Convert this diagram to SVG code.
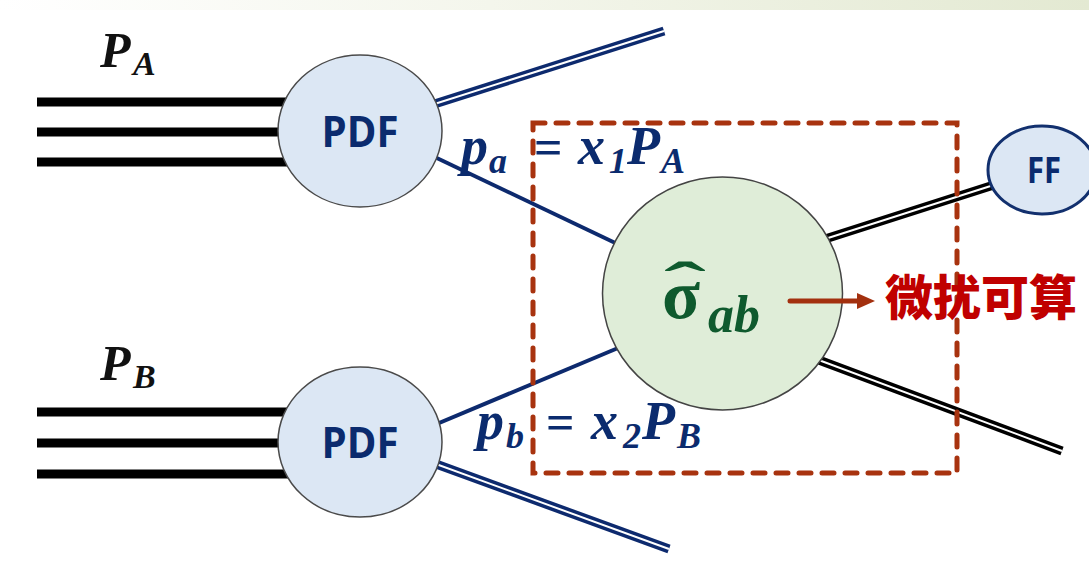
<svg xmlns="http://www.w3.org/2000/svg" width="1089" height="562" viewBox="0 0 1089 562">
<defs>
<linearGradient id="band" x1="0" x2="1" y1="0" y2="0">
<stop offset="0" stop-color="#ffffff"/>
<stop offset="0.45" stop-color="#f4f6ec"/>
<stop offset="1" stop-color="#e3e9d2"/>
</linearGradient>
<marker id="arr" markerUnits="userSpaceOnUse" viewBox="0 0 18 18" markerWidth="18" markerHeight="18" refX="5" refY="9" orient="auto">
<path d="M0,1 L18,9 L0,17 z" fill="#a3300f"/>
</marker>
</defs>
<style>
.beam{stroke:#000;stroke-width:9;fill:none}
.navy2{stroke:#0d2a6e;stroke-width:9;fill:none}
.blk2{stroke:#000;stroke-width:9;fill:none}
.gap{stroke:#fff;stroke-width:2;fill:none}
.navy1{stroke:#0d2a6e;stroke-width:4;fill:none}
.pdf{fill:#dce7f4;stroke:#4a4a4a;stroke-width:1.5}
.lbl{font-family:"Open Sans","Noto Sans",sans-serif;font-weight:700;fill:#0b2b6e}
.math{font-family:"Liberation Serif",serif;font-weight:bold;font-style:italic;fill:#0b2b6e}
.eq{font-family:"Liberation Serif",serif;font-weight:bold;fill:#0b2b6e}
</style>
<rect x="0" y="0" width="1089" height="10" fill="url(#band)"/>
<rect x="0" y="10" width="1089" height="552" fill="#ffffff"/>

<g id="connectors">
<line class="beam" x1="37" y1="102" x2="300" y2="102"/>
<line class="beam" x1="37" y1="132" x2="300" y2="132"/>
<line class="beam" x1="37" y1="162" x2="300" y2="162"/>
<line class="beam" x1="37" y1="412" x2="300" y2="412"/>
<line class="beam" x1="37" y1="443" x2="300" y2="443"/>
<line class="beam" x1="37" y1="474" x2="300" y2="474"/>
<line class="navy2" x1="425" y1="107" x2="664" y2="31"/>
<line class="gap" x1="425" y1="107" x2="664" y2="31"/>
<line class="navy2" x1="425" y1="460" x2="669" y2="549"/>
<line class="gap" x1="425" y1="460" x2="669" y2="549"/>
<line class="navy1" x1="420" y1="150" x2="630" y2="250"/>
<line class="navy1" x1="420" y1="431" x2="630" y2="343"/>
<line class="blk2" x1="800" y1="247" x2="1000" y2="183"/>
<line class="gap" x1="800" y1="247" x2="1000" y2="183"/>
<line class="blk2" x1="800" y1="353" x2="1062" y2="451"/>
<line class="gap" x1="800" y1="353" x2="1062" y2="451"/>
</g>

<g id="pdf-a">
<ellipse class="pdf" cx="360" cy="131" rx="82" ry="76"/>
<text class="lbl" x="360" y="147" font-size="43" text-anchor="middle" textLength="77" lengthAdjust="spacingAndGlyphs">PDF</text>
</g>
<g id="pdf-b">
<ellipse class="pdf" cx="360" cy="442" rx="82" ry="75"/>
<text class="lbl" x="360" y="458" font-size="43" text-anchor="middle" textLength="77" lengthAdjust="spacingAndGlyphs">PDF</text>
</g>

<g id="label-pa">
<text class="math" style="fill:#111" x="100" y="67" font-size="50">P</text>
<text class="math" style="fill:#111" x="133" y="75" font-size="34">A</text>
</g>
<g id="label-pb">
<text class="math" style="fill:#111" x="100" y="380" font-size="50">P</text>
<text class="math" style="fill:#111" x="133" y="388" font-size="34">B</text>
</g>

<g id="hard-process">
<ellipse cx="722.5" cy="293.5" rx="120" ry="116.5" fill="#dfedd8" stroke="#444" stroke-width="1.5"/>
<text x="0" y="0" transform="translate(685,303) scale(2.1,1)" text-anchor="middle" font-family="Liberation Serif, serif" font-weight="bold" font-size="60" fill="#0f5a2e">ˆ</text>
<text x="662" y="318" font-family="Liberation Serif, serif" font-weight="bold" font-size="70" fill="#0f5a2e">σ</text>
<text x="708" y="332" font-family="Liberation Serif, serif" font-weight="bold" font-style="italic" font-size="52" fill="#0f5a2e">ab</text>
</g>

<g id="ff">
<ellipse cx="1042" cy="170" rx="54" ry="44" fill="#dce7f4" stroke="#12306e" stroke-width="3"/>
<text class="lbl" x="1044" y="183" font-size="35" text-anchor="middle" textLength="34" lengthAdjust="spacingAndGlyphs">FF</text>
</g>

<g id="formula-a">
<text class="math" x="461" y="164" font-size="54">p</text>
<text class="math" x="489" y="173" font-size="36">a</text>
<text class="eq" x="534" y="164" font-size="50">=</text>
<text class="math" x="578" y="164" font-size="54">x</text>
<text class="math" x="609" y="173" font-size="36">1</text>
<text class="math" x="627" y="164" font-size="54">P</text>
<text class="math" x="661" y="173" font-size="36">A</text>
</g>
<g id="formula-b">
<text class="math" x="477" y="439" font-size="54">p</text>
<text class="math" x="506" y="448" font-size="36">b</text>
<text class="eq" x="546" y="439" font-size="50">=</text>
<text class="math" x="591" y="439" font-size="54">x</text>
<text class="math" x="623" y="448" font-size="36">2</text>
<text class="math" x="642" y="439" font-size="54">P</text>
<text class="math" x="677" y="448" font-size="36">B</text>
</g>

<g id="box">
<rect x="533" y="123" width="424" height="350" fill="none" stroke="#a8330f" stroke-width="5" stroke-dasharray="12 11" stroke-linecap="round"/>
</g>

<g id="annotation">
<line x1="790" y1="301" x2="862" y2="301" stroke="#a3300f" stroke-width="5" stroke-linecap="round" marker-end="url(#arr)"/>
<text x="885" y="315" font-family="Noto Sans CJK SC, sans-serif" font-weight="900" font-size="48" fill="#c00000">微扰可算</text>
</g>
</svg>
